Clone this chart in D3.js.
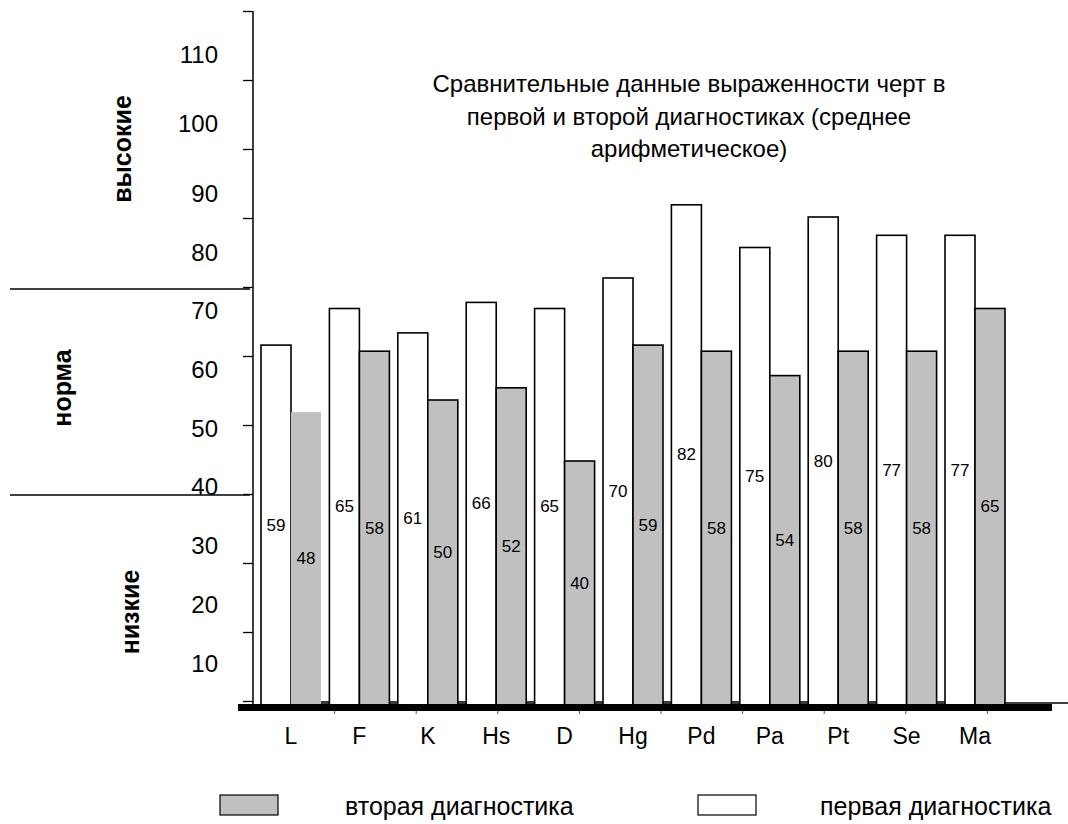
<!DOCTYPE html>
<html>
<head>
<meta charset="utf-8">
<script src="https://cdn.jsdelivr.net/npm/d3@7/dist/d3.min.js"></script>
<style>
  html, body { margin: 0; padding: 0; background: #fff; }
  svg { display: block; font-family: "Liberation Sans", Arial, sans-serif; }
</style>
</head>
<body>
<svg id="chart" width="1068" height="824"></svg>
<script>
// ---- data ----
const categories = ["L", "F", "K", "Hs", "D", "Hg", "Pd", "Pa", "Pt", "Se", "Ma"];
const firstDiag  = [59, 65, 61, 66, 65, 70, 82, 75, 80, 77, 77];
const secondDiag = [48, 58, 50, 52, 40, 59, 58, 54, 58, 58, 65];
const seriesNames = ["первая диагностика", "вторая диагностика"];
const yTickLabels = [10, 20, 30, 40, 50, 60, 70, 80, 90, 100, 110];
const zoneLabels = ["высокие", "норма", "низкие"];
const titleLines = [
  "Сравнительные данные выраженности черт в",
  "первой и второй диагностиках (среднее",
  "арифметическое)"
];

const svg = d3.select("#chart");

// ---- scales ----
const baseY = 705;
const y = d3.scaleLinear().domain([0, 100]).range([baseY, baseY - 610]);
const step = 68.4;
const x0 = d3.scaleBand().domain(categories)
  .range([256.8, 256.8 + step * categories.length])
  .paddingInner(0.1228).paddingOuter(0.0614);
const x1 = d3.scaleBand().domain([0, 1]).range([0, x0.bandwidth()]);

// axis tick positions (drawn evenly, as in the original)
const tickScale = d3.scaleLinear().domain([0, 100]).range([701, 11]);
// label positions (placed by hand in the original, unevenly)
const labelScale = d3.scaleLinear().domain([10, 80, 90, 110]).range([663, 252, 193, 54]);
const xTickScale = d3.scaleLinear().domain([0, 10]).range([253, 1069]);

// ---- title ----
const titleY = [83, 116, 148];
svg.append("g").selectAll("text").data(titleLines).join("text")
  .attr("x", 689).attr("y", (d, i) => titleY[i])
  .attr("text-anchor", "middle").attr("dominant-baseline", "central")
  .attr("font-size", 24).attr("fill", "#000").text(d => d);

// ---- zone separators ----
svg.append("g").selectAll("line").data([289, 495]).join("line")
  .attr("x1", 10).attr("x2", 250).attr("y1", d => d).attr("y2", d => d)
  .attr("stroke", "#000").attr("stroke-width", 1.3);

// ---- y axis ----
const yAxis = d3.axisLeft(tickScale).tickValues(d3.range(0, 101, 10))
  .tickSize(10).tickSizeOuter(0).tickFormat("");
const gy = svg.append("g").attr("transform", "translate(253,0)").call(yAxis);
gy.select(".domain").remove();
gy.selectAll(".tick line").attr("stroke", "#000").attr("stroke-width", 1.3);
svg.append("line").attr("x1", 253).attr("x2", 253).attr("y1", 11).attr("y2", baseY)
  .attr("stroke", "#000").attr("stroke-width", 1.5);

svg.append("g").selectAll("text").data(yTickLabels).join("text")
  .attr("x", 218).attr("y", d => labelScale(d))
  .attr("text-anchor", "end").attr("dominant-baseline", "central")
  .attr("font-size", 24).attr("fill", "#000").text(d => d);

// ---- zone labels (rotated) ----
const zonePos = [[122, 149], [62, 388], [130, 612]];
svg.append("g").selectAll("text").data(zoneLabels).join("text")
  .attr("transform", (d, i) => `translate(${zonePos[i][0]},${zonePos[i][1]}) rotate(-90)`)
  .attr("text-anchor", "middle").attr("dominant-baseline", "central")
  .attr("font-size", 25).attr("font-weight", "bold").attr("fill", "#000").text(d => d);

// ---- bars ----
const rows = categories.map((c, i) => ({ cat: c, vals: [firstDiag[i], secondDiag[i]] }));

// small dark floor pieces between groups
svg.append("g").selectAll("rect").data(categories.slice(0, -1)).join("rect")
  .attr("x", d => x0(d) + x0.bandwidth())
  .attr("width", step - x0.bandwidth())
  .attr("y", baseY - 4).attr("height", 4)
  .attr("fill", "#3a3a3a");

const groups = svg.append("g").selectAll("g").data(rows).join("g")
  .attr("transform", d => `translate(${x0(d.cat)},0)`);

groups.selectAll("rect").data(d => d.vals.map((v, j) => ({ v, j, cat: d.cat }))).join("rect")
  .attr("x", d => x1(d.j))
  .attr("width", x1.bandwidth())
  .attr("y", d => y(d.v))
  .attr("height", d => (d.j === 1 && d.cat === "L") ? y(0) - y(d.v) + 2 : y(0) - y(d.v))
  .attr("fill", d => d.j === 0 ? "#ffffff" : "#c0c0c0")
  .attr("stroke", d => (d.j === 1 && d.cat === "L") ? "none" : "#000")
  .attr("stroke-width", 1.6);

groups.selectAll("text").data(d => d.vals.map((v, j) => ({ v, j }))).join("text")
  .attr("x", d => x1(d.j) + x1.bandwidth() / 2)
  .attr("y", d => (y(d.v) + y(0)) / 2)
  .attr("text-anchor", "middle").attr("dominant-baseline", "central")
  .attr("font-size", 17).attr("fill", "#000").text(d => d.v);

// ---- x baseline ----
svg.append("rect").attr("x", 238).attr("y", 704).attr("width", 1052 - 238).attr("height", 7)
  .attr("fill", "#000");
svg.append("line").attr("x1", 1004).attr("x2", 1068).attr("y1", 703).attr("y2", 703)
  .attr("stroke", "#000").attr("stroke-width", 1.5);
svg.append("g").selectAll("line").data(d3.range(1, 10)).join("line")
  .attr("x1", d => xTickScale(d)).attr("x2", d => xTickScale(d))
  .attr("y1", 711).attr("y2", 714).attr("stroke", "#555").attr("stroke-width", 1);

// category labels
svg.append("g").selectAll("text").data(categories).join("text")
  .attr("x", d => x0(d) + x0.bandwidth() / 2)
  .attr("y", 736)
  .attr("text-anchor", "middle").attr("dominant-baseline", "central")
  .attr("font-size", 23).attr("fill", "#000").text(d => d);

// ---- legend ----
const legend = [
  { name: seriesNames[1], fill: "#c0c0c0", bx: 220, tx: 345 },
  { name: seriesNames[0], fill: "#ffffff", bx: 698, tx: 820 }
];
const lg = svg.append("g").selectAll("g").data(legend).join("g");
lg.append("rect").attr("x", d => d.bx).attr("y", 795).attr("width", 58).attr("height", 20)
  .attr("fill", d => d.fill).attr("stroke", "#000").attr("stroke-width", 1.2);
lg.append("text").attr("x", d => d.tx).attr("y", 806)
  .attr("dominant-baseline", "central").attr("font-size", 25).attr("fill", "#000")
  .text(d => d.name);
</script>
</body>
</html>
